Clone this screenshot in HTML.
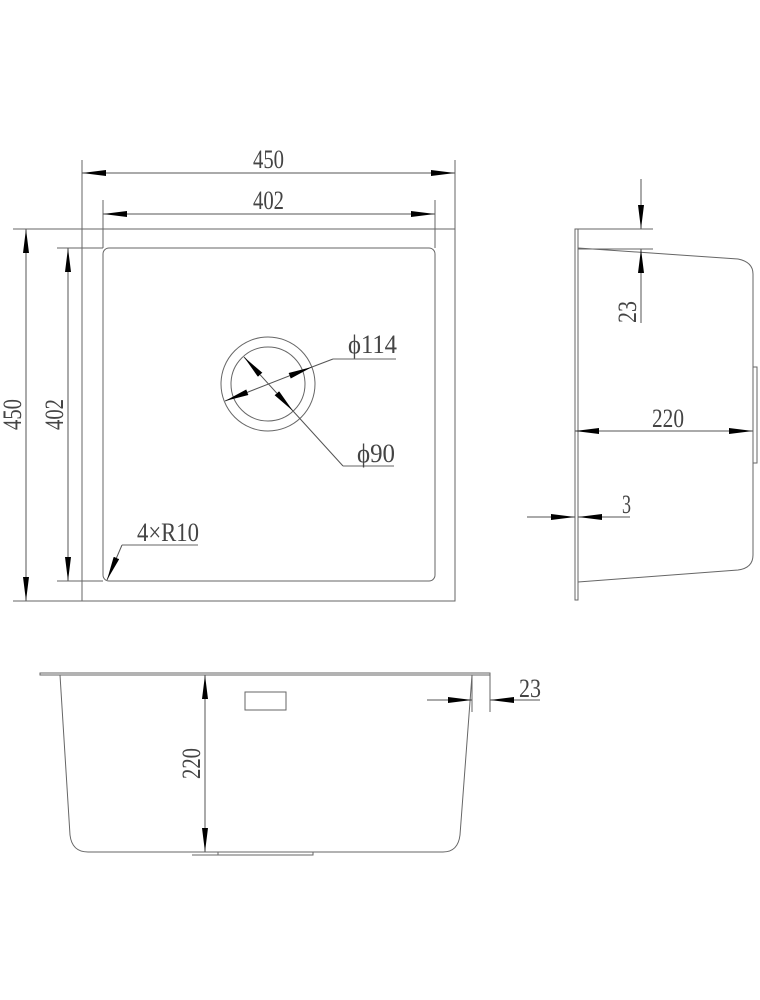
<!DOCTYPE html>
<html><head><meta charset="utf-8"><style>
html,body{margin:0;padding:0;background:#fff;width:760px;height:1000px;overflow:hidden}
svg{display:block}
text{font-family:"Liberation Serif",serif;font-size:26px;fill:#444}
</style></head><body>
<svg width="760" height="1000" viewBox="0 0 760 1000" xmlns="http://www.w3.org/2000/svg">
<defs>
<marker id="a" viewBox="0 0 24 6" refX="24" refY="3" markerWidth="24" markerHeight="6" markerUnits="userSpaceOnUse" orient="auto-start-reverse"><path d="M0,0 L24,3 L0,6 Z" fill="#000"/></marker>
</defs>
<g stroke="#666" stroke-width="1" fill="none">
<rect x="82" y="229" width="373" height="372"/>
<rect x="103" y="248" width="332" height="333" rx="6"/>
<line x1="82" y1="160" x2="82" y2="229"/>
<line x1="455" y1="160" x2="455" y2="229"/>
<line x1="103" y1="200" x2="103" y2="248"/>
<line x1="435" y1="200" x2="435" y2="248"/>
<line x1="13" y1="229" x2="82" y2="229"/>
<line x1="13" y1="601" x2="82" y2="601"/>
<line x1="57" y1="248" x2="103" y2="248"/>
<line x1="57" y1="581" x2="103" y2="581"/>
<circle cx="268" cy="384" r="47"/>
<circle cx="268" cy="384" r="37"/>
<polyline points="333,359 396,359"/>
<polyline points="343,466 394,466"/>
<polyline points="122,545 198,545"/>
</g>
<g stroke="#555" stroke-width="1" fill="none">
<line x1="82" y1="173" x2="455" y2="173" marker-start="url(#a)" marker-end="url(#a)"/>
<line x1="103" y1="214" x2="435" y2="214" marker-start="url(#a)" marker-end="url(#a)"/>
<line x1="26" y1="229" x2="26" y2="601" marker-start="url(#a)" marker-end="url(#a)"/>
<line x1="68" y1="248" x2="68" y2="581" marker-start="url(#a)" marker-end="url(#a)"/>
<line x1="225" y1="401" x2="312" y2="367" marker-start="url(#a)" marker-end="url(#a)"/>
<line x1="312" y1="367" x2="333" y2="359"/>
<line x1="244" y1="357" x2="293" y2="411" marker-start="url(#a)" marker-end="url(#a)"/>
<line x1="293" y1="411" x2="343" y2="466"/>
<line x1="122" y1="545" x2="107" y2="580" marker-end="url(#a)"/>
</g>
<text x="253" y="168" textLength="31" lengthAdjust="spacingAndGlyphs">450</text>
<text x="253" y="209" textLength="31" lengthAdjust="spacingAndGlyphs">402</text>
<text transform="translate(21,430) rotate(-90)" textLength="31" lengthAdjust="spacingAndGlyphs">450</text>
<text transform="translate(63,430) rotate(-90)" textLength="31" lengthAdjust="spacingAndGlyphs">402</text>
<text x="348" y="353" textLength="49" lengthAdjust="spacingAndGlyphs">ϕ114</text>
<text x="357" y="462" textLength="38" lengthAdjust="spacingAndGlyphs">ϕ90</text>
<text x="137" y="541" textLength="62" lengthAdjust="spacingAndGlyphs">4×R10</text>

<g stroke="#666" stroke-width="1" fill="none">
<rect x="575" y="229" width="3" height="371"/>
<line x1="578" y1="229" x2="653" y2="229"/>
<line x1="578" y1="249" x2="653" y2="249"/>
<path d="M578,248 L738,259 Q753,262 753,274 L753,555 Q753,568 738,570 L578,582"/>
<rect x="753" y="367" width="4" height="96"/>
</g>
<g stroke="#555" stroke-width="1" fill="none">
<line x1="641" y1="179" x2="641" y2="229" marker-end="url(#a)"/>
<line x1="641" y1="323" x2="641" y2="249" marker-end="url(#a)"/>
<line x1="575" y1="431" x2="753" y2="431" marker-start="url(#a)" marker-end="url(#a)"/>
<line x1="527" y1="517" x2="575" y2="517" marker-end="url(#a)"/>
<line x1="630" y1="517" x2="578" y2="517" marker-end="url(#a)"/>
</g>
<text transform="translate(636,323) rotate(-90)" textLength="22" lengthAdjust="spacingAndGlyphs">23</text>
<text x="652" y="427" textLength="32" lengthAdjust="spacingAndGlyphs">220</text>
<text x="622" y="513" textLength="9" lengthAdjust="spacingAndGlyphs">3</text>

<g stroke="#666" stroke-width="1" fill="none">
<rect x="40" y="673" width="450" height="2"/>
<path d="M60,675 L70,835 Q72,852 88,852 L443,852 Q458,852 460,835 L472,675"/>
<line x1="472" y1="675" x2="472" y2="712"/>
<line x1="490" y1="675" x2="490" y2="712"/>
<rect x="245" y="692" width="41" height="18"/>
<polyline points="192,855 313,855 313,852"/>
<line x1="218" y1="852" x2="218" y2="855"/>
</g>
<g stroke="#555" stroke-width="1" fill="none">
<line x1="205" y1="675" x2="205" y2="852" marker-start="url(#a)" marker-end="url(#a)"/>
<line x1="427" y1="700" x2="472" y2="700" marker-end="url(#a)"/>
<line x1="540" y1="700" x2="490" y2="700" marker-end="url(#a)"/>
</g>
<text transform="translate(200,779) rotate(-90)" textLength="31" lengthAdjust="spacingAndGlyphs">220</text>
<text x="519" y="697" textLength="22" lengthAdjust="spacingAndGlyphs">23</text>
</svg>
</body></html>
